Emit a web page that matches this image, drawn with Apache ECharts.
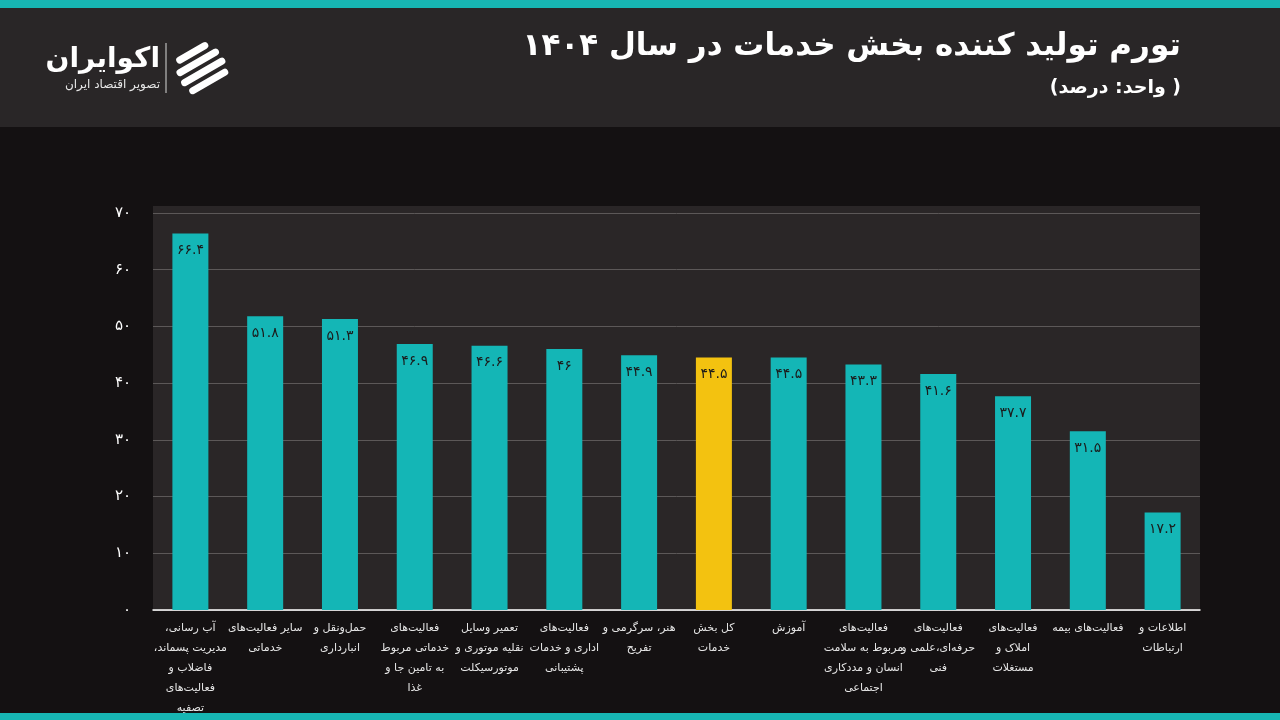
<!DOCTYPE html>
<html><head><meta charset="utf-8">
<script src="https://cdn.jsdelivr.net/npm/echarts@6/dist/echarts.min.js"></script>
<style>html,body{margin:0;padding:0;background:#141112;}#c{width:1280px;height:720px;direction:rtl;}</style>
</head><body><div id="c"></div>
<script>
const categories = [
  'آب رسانی،\nمدیریت پسماند،\nفاضلاب و\nفعالیت‌های\nتصفیه',
  'سایر فعالیت‌های\nخدماتی',
  'حمل‌ونقل و\nانبارداری',
  'فعالیت‌های\nخدماتی مربوط\nبه تامین جا و\nغذا',
  'تعمیر وسایل\nنقلیه موتوری و\nموتورسیکلت',
  'فعالیت‌های\nاداری و خدمات\nپشتیبانی',
  'هنر، سرگرمی و\nتفریح',
  'کل بخش\nخدمات',
  'آموزش',
  'فعالیت‌های\nمربوط به سلامت\nانسان و مددکاری\nاجتماعی',
  'فعالیت‌های\nحرفه‌ای،علمی و\nفنی',
  'فعالیت‌های\nاملاک و\nمستغلات',
  'فعالیت‌های بیمه',
  'اطلاعات و\nارتباطات'
];
const values = [66.4, 51.8, 51.3, 46.9, 46.6, 46, 44.9, 44.5, 44.5, 43.3, 41.6, 37.7, 31.5, 17.2];
const highlightCategory = 'کل بخش\nخدمات';
const yTicks = [0, 10, 20, 30, 40, 50, 60, 70];
const titleText = 'تورم تولید کننده بخش خدمات در سال ۱۴۰۴';
const subtitleText = '( واحد: درصد)';

const fa = s => String(s).replace(/[0-9]/g, d => '۰۱۲۳۴۵۶۷۸۹'[d]);
const FONT = '"DejaVu Sans", sans-serif';

const chart = echarts.init(document.getElementById('c'));
chart.setOption({
  backgroundColor: '#141112',
  animation: false,
  graphic: [
    { type: 'rect', shape: { x: 0, y: 0, width: 1280, height: 127 }, style: { fill: '#292627' }, z: -10 },
    { type: 'rect', shape: { x: 0, y: 0, width: 1280, height: 8 }, style: { fill: '#17b6b3' }, z: -9 },
    { type: 'rect', shape: { x: 0, y: 713, width: 1280, height: 7 }, style: { fill: '#17b6b3' }, z: -9 },
    { type: 'rect', shape: { x: 153, y: 206, width: 1047, height: 404 }, style: { fill: '#2a2627' }, z: -8 },
    { type: 'text', x: 1181, y: 47, style: { text: titleText, fill: '#ffffff', font: 'bold 31px ' + FONT, textAlign: 'right', textVerticalAlign: 'middle' } },
    { type: 'text', x: 1181, y: 88, style: { text: subtitleText, fill: '#ffffff', font: 'bold 19px ' + FONT, textAlign: 'right', textVerticalAlign: 'middle' } },
    // logo
    { type: 'text', x: 160, y: 60, style: { text: 'اکوایران', fill: '#ffffff', font: 'bold 28px ' + FONT, textAlign: 'right', textVerticalAlign: 'middle' } },
    { type: 'text', x: 160, y: 85, style: { text: 'تصویر اقتصاد ایران', fill: '#e8e8e8', font: '12px ' + FONT, textAlign: 'right', textVerticalAlign: 'middle' } },
    { type: 'line', shape: { x1: 166, y1: 43, x2: 166, y2: 93 }, style: { stroke: '#d8d8d8', lineWidth: 1 } },
    { type: 'group', x: 201, y: 68, rotation: Math.PI / 6, children: [
      { type: 'rect', shape: { x: -18, y: -21, width: 36, height: 7, r: 3.5 }, style: { fill: '#ffffff' } },
      { type: 'rect', shape: { x: -24, y: -10, width: 48, height: 7, r: 3.5 }, style: { fill: '#ffffff' } },
      { type: 'rect', shape: { x: -25, y: 1, width: 50, height: 7, r: 3.5 }, style: { fill: '#ffffff' } },
      { type: 'rect', shape: { x: -22, y: 12, width: 44, height: 7, r: 3.5 }, style: { fill: '#ffffff' } }
    ] }
  ],
  grid: { left: 153, right: 80, top: 213, bottom: 110 },
  xAxis: {
    type: 'category',
    data: categories,
    axisTick: { show: false },
    axisLine: { lineStyle: { color: '#ffffff', width: 1.5 } },
    axisLabel: { interval: 0, color: '#e6e6e6', fontSize: 11, lineHeight: 20, margin: 8, fontFamily: FONT, verticalAlign: 'top' }
  },
  yAxis: {
    type: 'value',
    min: yTicks[0], max: yTicks[yTicks.length - 1], interval: 10,
    axisLine: { show: false },
    axisTick: { show: false },
    splitLine: { lineStyle: { color: '#5c5858', width: 1 } },
    axisLabel: { color: '#ffffff', fontSize: 15, margin: 22, fontFamily: FONT, formatter: v => fa(v) }
  },
  series: [{
    type: 'bar',
    data: values.map((v, i) => ({ value: v, itemStyle: { color: categories[i] === highlightCategory ? '#f3c210' : '#14b6b6' } })),
    barWidth: 36,
    label: { show: true, position: 'insideTop', distance: 10, color: '#1b1b1b', fontSize: 14, fontFamily: FONT, formatter: p => fa(p.value) }
  }]
});
</script></body></html>
